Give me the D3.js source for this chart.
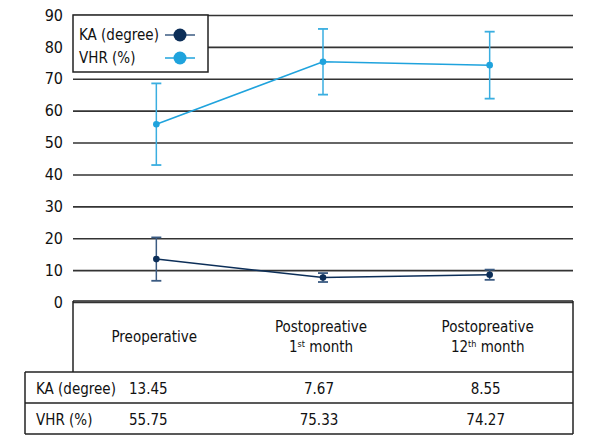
<!DOCTYPE html>
<html>
<head>
<meta charset="utf-8">
<script src="https://cdn.jsdelivr.net/npm/d3@7"></script>
<style>
  body { margin: 0; background: #fff; }
  svg { font-family: "DejaVu Sans Condensed", "Liberation Sans Narrow", sans-serif; }
</style>
</head>
<body>
<svg id="chart" width="600" height="440"></svg>
<script>
// ---- data ----
const categories = ["Preoperative", "Postopreative 1st month", "Postopreative 12th month"];
const headerLine1 = ["Preoperative", "Postopreative", "Postopreative"];
const headerNum = ["", "1", "12"];
const headerSup = ["", "st", "th"];
const seriesNames = ["KA (degree)", "VHR (%)"];
const kaValues = [13.45, 7.67, 8.55];
const kaSD = [6.8, 1.4, 1.6];
const vhrValues = [55.75, 75.33, 74.27];
const vhrSD = [12.8, 10.3, 10.5];
const kaLabels = ["13.45", "7.67", "8.55"];
const vhrLabels = ["55.75", "75.33", "74.27"];
const yTicks = [0, 10, 20, 30, 40, 50, 60, 70, 80, 90];

(function () {
const FS = 15;
const series = [
  { name: seriesNames[0], values: kaValues, sd: kaSD, labels: kaLabels, color: "#0c2e58", err: "#3b5b82" },
  { name: seriesNames[1], values: vhrValues, sd: vhrSD, labels: vhrLabels, color: "#1fa3dd", err: "#3aaee0" }
];

const svg = d3.select("#chart");
const pLeft = 73, pRight = 573, pTop = 15, pBottom = 302;

const x = d3.scaleBand().domain(categories).range([pLeft, pRight]);
const cx = c => x(c) + x.bandwidth() / 2;
const y = d3.scaleLinear().domain([0, 90]).range([pBottom, pTop]);

// grid + y axis
const yAxis = svg.append("g")
  .attr("transform", `translate(${pLeft},0)`)
  .call(d3.axisLeft(y).tickValues(yTicks).tickSize(-(pRight - pLeft)).tickPadding(10).tickFormat(d3.format("d")));
yAxis.select(".domain").remove();
yAxis.selectAll(".tick line").attr("stroke", "#333").attr("stroke-width", 1.6);
yAxis.selectAll(".tick text").attr("font-size", FS + 1).attr("fill", "#111")
  .attr("font-family", "DejaVu Sans Condensed, sans-serif");

// series lines, error bars, points
const line = d3.line().x((d, i) => cx(categories[i])).y(d => y(d));
series.forEach(s => {
  svg.append("path").datum(s.values)
    .attr("d", line).attr("fill", "none").attr("stroke", s.color).attr("stroke-width", 1.5);
  const g = svg.append("g");
  s.values.forEach((v, i) => {
    const px = cx(categories[i]);
    const y1 = y(v + s.sd[i]), y2 = y(v - s.sd[i]);
    g.append("line").attr("x1", px).attr("x2", px).attr("y1", y1).attr("y2", y2)
      .attr("stroke", s.err).attr("stroke-width", 1.5);
    [y1, y2].forEach(yy => g.append("line").attr("x1", px - 5).attr("x2", px + 5)
      .attr("y1", yy).attr("y2", yy).attr("stroke", s.err).attr("stroke-width", 1.8));
    g.append("circle").attr("cx", px).attr("cy", y(v)).attr("r", 3.3).attr("fill", s.color);
  });
});

// legend
const lg = svg.append("g");
lg.append("rect").attr("x", pLeft).attr("y", pTop).attr("width", 135).attr("height", 57)
  .attr("fill", "#fff").attr("stroke", "#222").attr("stroke-width", 1.5);
series.forEach((s, i) => {
  const ly = 35 + i * 23;
  lg.append("text").attr("x", 79).attr("y", ly).attr("dy", "0.35em")
    .attr("font-size", FS).attr("fill", "#111").text(s.name);
  lg.append("line").attr("x1", 165).attr("x2", 195).attr("y1", ly).attr("y2", ly)
    .attr("stroke", i === 0 ? "#3b5b82" : s.color).attr("stroke-width", 1.5);
  lg.append("circle").attr("cx", 180).attr("cy", ly).attr("r", 6.5).attr("fill", s.color);
});

// table
const tTop = 301, r1 = 372, r2 = 403, r3 = 434, tLeft = 25;
const tg = svg.append("g").attr("stroke", "#222").attr("stroke-width", 1.5);
tg.append("line").attr("x1", pLeft).attr("x2", pRight).attr("y1", tTop).attr("y2", tTop);
tg.append("line").attr("x1", pLeft).attr("x2", pLeft).attr("y1", tTop).attr("y2", r1);
tg.append("line").attr("x1", pRight).attr("x2", pRight).attr("y1", tTop).attr("y2", r3);
[r1, r2, r3].forEach(yy => tg.append("line").attr("x1", tLeft).attr("x2", pRight).attr("y1", yy).attr("y2", yy));
tg.append("line").attr("x1", tLeft).attr("x2", tLeft).attr("y1", r1).attr("y2", r3);

// header texts
categories.forEach((c, i) => {
  const px = cx(c) - 2;
  if (i === 0) {
    svg.append("text").attr("x", px).attr("y", 337).attr("dy", "0.35em")
      .attr("text-anchor", "middle").attr("font-size", FS).attr("fill", "#111").text(headerLine1[i]);
  } else {
    svg.append("text").attr("x", px).attr("y", 327).attr("dy", "0.35em")
      .attr("text-anchor", "middle").attr("font-size", FS).attr("fill", "#111").text(headerLine1[i]);
    const t = svg.append("text").attr("x", px).attr("y", 347).attr("dy", "0.35em")
      .attr("text-anchor", "middle").attr("font-size", FS).attr("fill", "#111");
    t.append("tspan").text(headerNum[i]);
    t.append("tspan").attr("font-size", 9).attr("dy", "-0.6em").text(headerSup[i]);
    t.append("tspan").attr("dy", "0.36em").text(" month");
  }
});

// row texts
series.forEach((s, k) => {
  const ry = (k === 0 ? (r1 + r2) / 2 : (r2 + r3) / 2) + 1;
  svg.append("text").attr("x", 36).attr("y", ry).attr("dy", "0.35em")
    .attr("font-size", FS).attr("fill", "#111").text(s.name);
  s.labels.forEach((lab, i) => {
    const t = svg.append("text").attr("y", ry).attr("dy", "0.35em")
      .attr("font-size", FS).attr("fill", "#111").text(lab);
    if (i === 0) t.attr("x", 129);
    else t.attr("x", cx(categories[i]) - 4).attr("text-anchor", "middle");
  });
});
})();
</script>
</body>
</html>
